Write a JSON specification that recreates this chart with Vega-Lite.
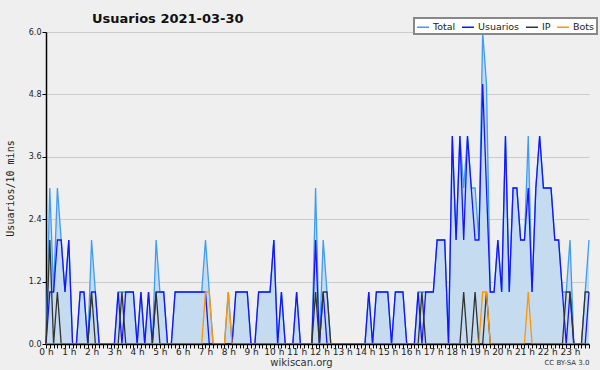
{
  "$schema": "https://vega.github.io/schema/vega-lite/v6.json",
  "width": 543,
  "height": 312,
  "autosize": "none",
  "padding": {"left": 46, "top": 32, "right": 11, "bottom": 26},
  "background": "#efefef",
  "config": {
    "view": {"stroke": null, "fill": "#efefef"},
    "font": "DejaVu Sans",
    "legend": {
      "orient": "none", "legendX": 368, "legendY": -14, "direction": "horizontal",
      "symbolType": "stroke", "symbolSize": 144, "symbolStrokeWidth": 1.5,
      "labelFontSize": 9.5, "labelColor": "#222", "labelFont": "DejaVu Sans",
      "fillColor": "#ffffff", "strokeColor": "#888888", "strokeWidth": 2,
      "padding": 2, "columnPadding": 3, "labelOffset": 3
    }
  },
  "title": {"text": "Usuarios  2021-03-30", "anchor": "start", "frame": "group", "dx": 46, "offset": -9, "fontSize": 13, "fontWeight": "bold", "font": "DejaVu Sans", "color": "#111"},
  "data": {"values": [
    {"m":0,"Total":0,"Usuarios":0,"IP":0,"Bots":0},
    {"m":10,"Total":3,"Usuarios":1,"IP":2,"Bots":0},
    {"m":20,"Total":1,"Usuarios":1,"IP":0,"Bots":0},
    {"m":30,"Total":3,"Usuarios":2,"IP":1,"Bots":0},
    {"m":40,"Total":2,"Usuarios":2,"IP":0,"Bots":0},
    {"m":50,"Total":1,"Usuarios":1,"IP":0,"Bots":0},
    {"m":60,"Total":2,"Usuarios":2,"IP":0,"Bots":0},
    {"m":70,"Total":0,"Usuarios":0,"IP":0,"Bots":0},
    {"m":80,"Total":0,"Usuarios":0,"IP":0,"Bots":0},
    {"m":90,"Total":1,"Usuarios":1,"IP":0,"Bots":0},
    {"m":100,"Total":1,"Usuarios":1,"IP":0,"Bots":0},
    {"m":110,"Total":0,"Usuarios":0,"IP":0,"Bots":0},
    {"m":120,"Total":2,"Usuarios":1,"IP":1,"Bots":0},
    {"m":130,"Total":1,"Usuarios":1,"IP":0,"Bots":0},
    {"m":140,"Total":0,"Usuarios":0,"IP":0,"Bots":0},
    {"m":150,"Total":0,"Usuarios":0,"IP":0,"Bots":0},
    {"m":160,"Total":0,"Usuarios":0,"IP":0,"Bots":0},
    {"m":170,"Total":0,"Usuarios":0,"IP":0,"Bots":0},
    {"m":180,"Total":0,"Usuarios":0,"IP":0,"Bots":0},
    {"m":190,"Total":1,"Usuarios":1,"IP":0,"Bots":0},
    {"m":200,"Total":1,"Usuarios":0,"IP":1,"Bots":0},
    {"m":210,"Total":1,"Usuarios":1,"IP":0,"Bots":0},
    {"m":220,"Total":1,"Usuarios":1,"IP":0,"Bots":0},
    {"m":230,"Total":1,"Usuarios":1,"IP":0,"Bots":0},
    {"m":240,"Total":0,"Usuarios":0,"IP":0,"Bots":0},
    {"m":250,"Total":1,"Usuarios":1,"IP":0,"Bots":0},
    {"m":260,"Total":0,"Usuarios":0,"IP":0,"Bots":0},
    {"m":270,"Total":1,"Usuarios":1,"IP":0,"Bots":0},
    {"m":280,"Total":0,"Usuarios":0,"IP":0,"Bots":0},
    {"m":290,"Total":2,"Usuarios":1,"IP":1,"Bots":0},
    {"m":300,"Total":1,"Usuarios":1,"IP":0,"Bots":0},
    {"m":310,"Total":1,"Usuarios":1,"IP":0,"Bots":0},
    {"m":320,"Total":0,"Usuarios":0,"IP":0,"Bots":0},
    {"m":330,"Total":0,"Usuarios":0,"IP":0,"Bots":0},
    {"m":340,"Total":1,"Usuarios":1,"IP":0,"Bots":0},
    {"m":350,"Total":1,"Usuarios":1,"IP":0,"Bots":0},
    {"m":360,"Total":1,"Usuarios":1,"IP":0,"Bots":0},
    {"m":370,"Total":1,"Usuarios":1,"IP":0,"Bots":0},
    {"m":380,"Total":1,"Usuarios":1,"IP":0,"Bots":0},
    {"m":390,"Total":1,"Usuarios":1,"IP":0,"Bots":0},
    {"m":400,"Total":1,"Usuarios":1,"IP":0,"Bots":0},
    {"m":410,"Total":1,"Usuarios":1,"IP":0,"Bots":0},
    {"m":420,"Total":2,"Usuarios":1,"IP":0,"Bots":1},
    {"m":430,"Total":1,"Usuarios":0,"IP":0,"Bots":1},
    {"m":440,"Total":0,"Usuarios":0,"IP":0,"Bots":0},
    {"m":450,"Total":0,"Usuarios":0,"IP":0,"Bots":0},
    {"m":460,"Total":0,"Usuarios":0,"IP":0,"Bots":0},
    {"m":470,"Total":0,"Usuarios":0,"IP":0,"Bots":0},
    {"m":480,"Total":1,"Usuarios":0,"IP":0,"Bots":1},
    {"m":490,"Total":0,"Usuarios":0,"IP":0,"Bots":0},
    {"m":500,"Total":1,"Usuarios":1,"IP":0,"Bots":0},
    {"m":510,"Total":1,"Usuarios":1,"IP":0,"Bots":0},
    {"m":520,"Total":1,"Usuarios":1,"IP":0,"Bots":0},
    {"m":530,"Total":1,"Usuarios":1,"IP":0,"Bots":0},
    {"m":540,"Total":0,"Usuarios":0,"IP":0,"Bots":0},
    {"m":550,"Total":0,"Usuarios":0,"IP":0,"Bots":0},
    {"m":560,"Total":1,"Usuarios":1,"IP":0,"Bots":0},
    {"m":570,"Total":1,"Usuarios":1,"IP":0,"Bots":0},
    {"m":580,"Total":1,"Usuarios":1,"IP":0,"Bots":0},
    {"m":590,"Total":1,"Usuarios":1,"IP":0,"Bots":0},
    {"m":600,"Total":2,"Usuarios":2,"IP":0,"Bots":0},
    {"m":610,"Total":0,"Usuarios":0,"IP":0,"Bots":0},
    {"m":620,"Total":1,"Usuarios":1,"IP":0,"Bots":0},
    {"m":630,"Total":0,"Usuarios":0,"IP":0,"Bots":0},
    {"m":640,"Total":0,"Usuarios":0,"IP":0,"Bots":0},
    {"m":650,"Total":0,"Usuarios":0,"IP":0,"Bots":0},
    {"m":660,"Total":1,"Usuarios":1,"IP":0,"Bots":0},
    {"m":670,"Total":0,"Usuarios":0,"IP":0,"Bots":0},
    {"m":680,"Total":0,"Usuarios":0,"IP":0,"Bots":0},
    {"m":690,"Total":0,"Usuarios":0,"IP":0,"Bots":0},
    {"m":700,"Total":0,"Usuarios":0,"IP":0,"Bots":0},
    {"m":710,"Total":3,"Usuarios":2,"IP":1,"Bots":0},
    {"m":720,"Total":0,"Usuarios":0,"IP":0,"Bots":0},
    {"m":730,"Total":2,"Usuarios":1,"IP":1,"Bots":0},
    {"m":740,"Total":1,"Usuarios":0,"IP":1,"Bots":0},
    {"m":750,"Total":0,"Usuarios":0,"IP":0,"Bots":0},
    {"m":760,"Total":0,"Usuarios":0,"IP":0,"Bots":0},
    {"m":770,"Total":0,"Usuarios":0,"IP":0,"Bots":0},
    {"m":780,"Total":0,"Usuarios":0,"IP":0,"Bots":0},
    {"m":790,"Total":0,"Usuarios":0,"IP":0,"Bots":0},
    {"m":800,"Total":0,"Usuarios":0,"IP":0,"Bots":0},
    {"m":810,"Total":0,"Usuarios":0,"IP":0,"Bots":0},
    {"m":820,"Total":0,"Usuarios":0,"IP":0,"Bots":0},
    {"m":830,"Total":0,"Usuarios":0,"IP":0,"Bots":0},
    {"m":840,"Total":0,"Usuarios":0,"IP":0,"Bots":0},
    {"m":850,"Total":1,"Usuarios":1,"IP":0,"Bots":0},
    {"m":860,"Total":0,"Usuarios":0,"IP":0,"Bots":0},
    {"m":870,"Total":1,"Usuarios":1,"IP":0,"Bots":0},
    {"m":880,"Total":1,"Usuarios":1,"IP":0,"Bots":0},
    {"m":890,"Total":1,"Usuarios":1,"IP":0,"Bots":0},
    {"m":900,"Total":1,"Usuarios":1,"IP":0,"Bots":0},
    {"m":910,"Total":0,"Usuarios":0,"IP":0,"Bots":0},
    {"m":920,"Total":1,"Usuarios":1,"IP":0,"Bots":0},
    {"m":930,"Total":1,"Usuarios":1,"IP":0,"Bots":0},
    {"m":940,"Total":1,"Usuarios":1,"IP":0,"Bots":0},
    {"m":950,"Total":0,"Usuarios":0,"IP":0,"Bots":0},
    {"m":960,"Total":0,"Usuarios":0,"IP":0,"Bots":0},
    {"m":970,"Total":0,"Usuarios":0,"IP":0,"Bots":0},
    {"m":980,"Total":1,"Usuarios":1,"IP":0,"Bots":0},
    {"m":990,"Total":1,"Usuarios":0,"IP":1,"Bots":0},
    {"m":1000,"Total":1,"Usuarios":1,"IP":0,"Bots":0},
    {"m":1010,"Total":1,"Usuarios":1,"IP":0,"Bots":0},
    {"m":1020,"Total":1,"Usuarios":1,"IP":0,"Bots":0},
    {"m":1030,"Total":2,"Usuarios":2,"IP":0,"Bots":0},
    {"m":1040,"Total":2,"Usuarios":2,"IP":0,"Bots":0},
    {"m":1050,"Total":2,"Usuarios":2,"IP":0,"Bots":0},
    {"m":1060,"Total":0,"Usuarios":0,"IP":0,"Bots":0},
    {"m":1070,"Total":4,"Usuarios":4,"IP":0,"Bots":0},
    {"m":1080,"Total":2,"Usuarios":2,"IP":0,"Bots":0},
    {"m":1090,"Total":4,"Usuarios":4,"IP":0,"Bots":0},
    {"m":1100,"Total":3,"Usuarios":2,"IP":1,"Bots":0},
    {"m":1110,"Total":4,"Usuarios":4,"IP":0,"Bots":0},
    {"m":1120,"Total":3,"Usuarios":3,"IP":0,"Bots":0},
    {"m":1130,"Total":3,"Usuarios":2,"IP":1,"Bots":0},
    {"m":1140,"Total":2,"Usuarios":2,"IP":0,"Bots":0},
    {"m":1150,"Total":6,"Usuarios":5,"IP":0,"Bots":1},
    {"m":1160,"Total":5,"Usuarios":3,"IP":1,"Bots":1},
    {"m":1170,"Total":1,"Usuarios":1,"IP":0,"Bots":0},
    {"m":1180,"Total":1,"Usuarios":1,"IP":0,"Bots":0},
    {"m":1190,"Total":2,"Usuarios":2,"IP":0,"Bots":0},
    {"m":1200,"Total":1,"Usuarios":1,"IP":0,"Bots":0},
    {"m":1210,"Total":4,"Usuarios":4,"IP":0,"Bots":0},
    {"m":1220,"Total":1,"Usuarios":1,"IP":0,"Bots":0},
    {"m":1230,"Total":3,"Usuarios":3,"IP":0,"Bots":0},
    {"m":1240,"Total":3,"Usuarios":3,"IP":0,"Bots":0},
    {"m":1250,"Total":2,"Usuarios":2,"IP":0,"Bots":0},
    {"m":1260,"Total":2,"Usuarios":2,"IP":0,"Bots":0},
    {"m":1270,"Total":4,"Usuarios":3,"IP":0,"Bots":1},
    {"m":1280,"Total":1,"Usuarios":1,"IP":0,"Bots":0},
    {"m":1290,"Total":3,"Usuarios":3,"IP":0,"Bots":0},
    {"m":1300,"Total":4,"Usuarios":4,"IP":0,"Bots":0},
    {"m":1310,"Total":3,"Usuarios":3,"IP":0,"Bots":0},
    {"m":1320,"Total":3,"Usuarios":3,"IP":0,"Bots":0},
    {"m":1330,"Total":3,"Usuarios":3,"IP":0,"Bots":0},
    {"m":1340,"Total":2,"Usuarios":2,"IP":0,"Bots":0},
    {"m":1350,"Total":2,"Usuarios":2,"IP":0,"Bots":0},
    {"m":1360,"Total":1,"Usuarios":1,"IP":0,"Bots":0},
    {"m":1370,"Total":1,"Usuarios":0,"IP":1,"Bots":0},
    {"m":1380,"Total":2,"Usuarios":1,"IP":1,"Bots":0},
    {"m":1390,"Total":0,"Usuarios":0,"IP":0,"Bots":0},
    {"m":1400,"Total":0,"Usuarios":0,"IP":0,"Bots":0},
    {"m":1410,"Total":0,"Usuarios":0,"IP":0,"Bots":0},
    {"m":1420,"Total":1,"Usuarios":0,"IP":1,"Bots":0},
    {"m":1430,"Total":2,"Usuarios":1,"IP":1,"Bots":0}
  ]},
  "resolve": {"axis": {"x": "independent"}},
  "layer": [
    {
      "mark": {"type": "area", "color": "#c5dcf0", "opacity": 1},
      "encoding": {
        "x": {"field": "m", "type": "quantitative", "scale": {"domain": [0, 1430], "nice": false, "zero": false},
          "axis": {"orient": "bottom", "zindex": 1, "tickCount": 143, "labelExpr": "datum.value % 60 == 0 ? (datum.value / 60) + ' h' : ''",
            "labelOverlap": false, "labelFlush": false, "labelFontSize": 9, "labelColor": "#222", "labelPadding": -1,
            "tickSize": 4, "tickColor": "#000", "domainColor": "#000", "domainWidth": 1.5, "grid": false,
            "title": "wikiscan.org", "titleFontSize": 10, "titleFontWeight": "normal", "titleColor": "#333", "titlePadding": 1, "titleX": 255}},
        "y": {"field": "Total", "type": "quantitative", "scale": {"domain": [0, 6], "nice": false},
          "axis": {"values": [0, 0.3, 0.6, 0.9, 1.2, 1.5, 1.8, 2.1, 2.4, 2.7, 3.0, 3.3, 3.6, 3.9, 4.2, 4.5, 4.8, 5.1, 5.4, 5.7, 6.0],
            "labelExpr": "indexof([0, 1.2, 2.4, 3.6, 4.8, 6], datum.value) >= 0 ? format(datum.value, '.1f') : ''",
            "gridOpacity": {"condition": {"test": "indexof([1.2, 2.4, 3.6, 4.8, 6], datum.value) >= 0", "value": 1}, "value": 0},
            "gridColor": "#cccccc", "grid": true, "labelFontSize": 8, "labelColor": "#222", "labelPadding": 1,
            "tickSize": 4, "tickColor": "#000", "domainColor": "#000", "domainWidth": 1.5,
            "title": "Usuarios/10 mins", "titleFont": "DejaVu Sans Mono", "titleFontSize": 10, "titleFontWeight": "normal", "titleColor": "#222", "titlePadding": 13}}
      }
    },
    {
      "mark": {"type": "line", "strokeWidth": 1.3},
      "encoding": {
        "x": {"field": "m", "type": "quantitative",
          "axis": {"orient": "bottom", "labels": false, "ticks": false, "domain": false, "grid": false,
            "title": "CC BY-SA 3.0", "titleAnchor": "end", "titleFontSize": 7, "titleFontWeight": "normal", "titleColor": "#333", "titlePadding": 14}},
        "y": {"field": "Total", "type": "quantitative"},
        "color": {"datum": "Total", "type": "nominal", "title": null,
          "scale": {"domain": ["Total", "Usuarios", "IP", "Bots"], "range": ["#3f9cf2", "#1414ff", "#333333", "#ff9500"]}}
      }
    },
    {
      "mark": {"type": "line", "strokeWidth": 1.3},
      "encoding": {
        "x": {"field": "m", "type": "quantitative", "axis": null},
        "y": {"field": "Usuarios", "type": "quantitative"},
        "color": {"datum": "Usuarios", "type": "nominal"}
      }
    },
    {
      "mark": {"type": "line", "strokeWidth": 1.3},
      "encoding": {
        "x": {"field": "m", "type": "quantitative", "axis": null},
        "y": {"field": "IP", "type": "quantitative"},
        "color": {"datum": "IP", "type": "nominal"}
      }
    },
    {
      "mark": {"type": "line", "strokeWidth": 1.3},
      "encoding": {
        "x": {"field": "m", "type": "quantitative", "axis": null},
        "y": {"field": "Bots", "type": "quantitative"},
        "color": {"datum": "Bots", "type": "nominal"}
      }
    }
  ]
}
